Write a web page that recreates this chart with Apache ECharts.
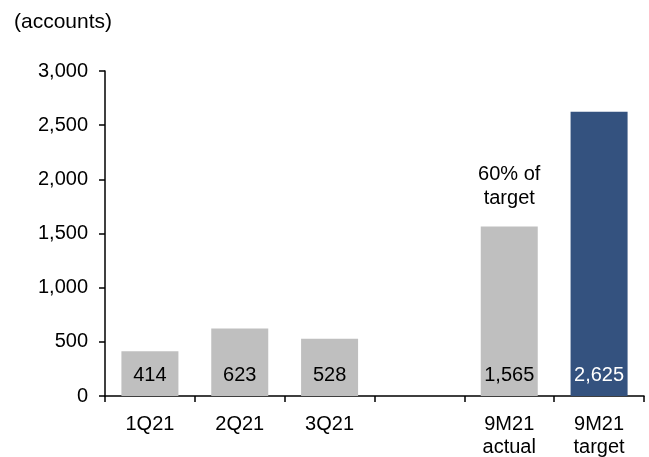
<!DOCTYPE html>
<html>
<head>
<meta charset="utf-8">
<script src="https://cdn.jsdelivr.net/npm/echarts@6/dist/echarts.min.js"></script>
<style>
  html, body { margin: 0; padding: 0; background: #fff; }
  #chart { width: 649px; height: 457px; }
</style>
</head>
<body>
<div id="chart"></div>
<script>
// Account openings per quarter, year-to-date total and target
const categories = ['1Q21', '2Q21', '3Q21', '', '9M21\nactual', '9M21\ntarget'];
const accounts = [414, 623, 528, null, 1565, 2625];
const barColors = ['#BFBFBF', '#BFBFBF', '#BFBFBF', '#BFBFBF', '#BFBFBF', '#34527F'];
const labelColors = ['#000', '#000', '#000', '#000', '#000', '#fff'];
const yTicks = { min: 0, max: 3000, interval: 500 };
const noteText = '60% of\ntarget';
const noteCategory = '9M21\nactual';
const noteValue = 1565;

const FONT = 'Liberation Sans, Arial, sans-serif';
const FS = 20;
const fmt = v => v.toLocaleString('en-US');

const chart = echarts.init(document.getElementById('chart'), null, { renderer: 'canvas' });
chart.setOption({
  animation: false,
  textStyle: { fontFamily: FONT },
  title: {
    text: '(accounts)',
    left: 9, top: 7,
    textStyle: { fontFamily: FONT, fontSize: 21, fontWeight: 'normal', color: '#000' }
  },
  grid: { left: 105, right: 5, top: 71, bottom: 61, containLabel: false, outerBoundsMode: 'none' },
  xAxis: {
    type: 'category',
    data: categories,
    axisLine: { lineStyle: { color: '#000', width: 1.5 } },
    axisTick: { show: true, length: 6, lineStyle: { color: '#000', width: 1.5 } },
    axisLabel: { color: '#000', fontSize: FS, lineHeight: 23, margin: 17, fontFamily: FONT, interval: 0 }
  },
  yAxis: {
    type: 'value',
    min: yTicks.min, max: yTicks.max, interval: yTicks.interval,
    splitLine: { show: false },
    axisLine: { show: true, lineStyle: { color: '#000', width: 1.5 } },
    axisTick: { show: true, length: 6, lineStyle: { color: '#000', width: 1.5 } },
    axisLabel: { color: '#000', fontSize: FS, margin: 17, fontFamily: FONT, formatter: fmt }
  },
  series: [{
    type: 'bar',
    barWidth: 57,
    data: accounts.map((v, i) => ({
      value: v,
      itemStyle: { color: barColors[i] },
      label: { color: labelColors[i] }
    })),
    label: {
      show: true,
      position: 'insideBottom',
      distance: 11,
      fontSize: FS,
      fontFamily: FONT,
      formatter: p => fmt(p.value)
    },
    markPoint: {
      symbol: 'circle',
      symbolSize: 0,
      data: [{ coord: [noteCategory, noteValue], value: noteValue }],
      label: {
        show: true,
        position: 'top',
        distance: 16,
        formatter: noteText,
        color: '#000',
        fontSize: FS,
        lineHeight: 24,
        fontFamily: FONT,
        align: 'center'
      }
    }
  }]
});
</script>
</body>
</html>
